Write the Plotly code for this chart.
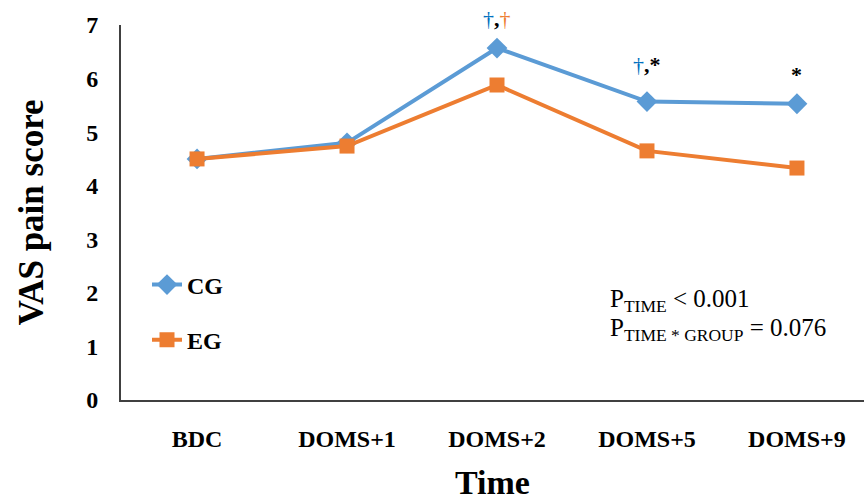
import plotly.graph_objects as go

# Time points and mean VAS pain scores per group
time_points = ["BDC", "DOMS+1", "DOMS+2", "DOMS+5", "DOMS+9"]
cg_scores = [4.50, 4.80, 6.57, 5.57, 5.53]
eg_scores = [4.50, 4.74, 5.88, 4.65, 4.33]
y_ticks = [0, 1, 2, 3, 4, 5, 6, 7]

BLUE = "#5B9BD5"
ORANGE = "#ED7D31"
DAGGER_BLUE = "#0070C0"
SERIF = "Liberation Serif, Times New Roman, serif"

fig = go.Figure()
fig.add_trace(go.Scatter(
    x=list(range(len(time_points))), y=cg_scores, name="<b>CG</b>", mode="lines+markers",
    line=dict(color=BLUE, width=4),
    marker=dict(symbol="diamond", size=16, color=BLUE),
    legendgroup="cg",
))
fig.add_trace(go.Scatter(
    x=list(range(len(time_points))), y=eg_scores, name="<b>EG</b>", mode="lines+markers",
    line=dict(color=ORANGE, width=4),
    marker=dict(symbol="square", size=15, color=ORANGE),
    legendgroup="eg",
))

# Significance marks above the CG points
marks = [
    (2, cg_scores[2], f"<span style='color:{DAGGER_BLUE}'>†</span><b>,</b><span style='color:{ORANGE}'>†</span>", 30),
    (3, cg_scores[3], f"<span style='color:{DAGGER_BLUE}'>†</span><b>,*</b>", 37),
    (4, cg_scores[4], "<b>*</b>", 29),
]
for xi, yi, txt, shift in marks:
    fig.add_annotation(x=xi, y=yi, text=txt, showarrow=False, yshift=shift,
                       font=dict(family=SERIF, size=22, color="black"))

# Statistics text
fig.add_annotation(xref="paper", yref="paper", x=0.655, y=0.22, xanchor="left", yanchor="bottom",
                   text="P<sub>TIME</sub> < 0.001", showarrow=False,
                   font=dict(family=SERIF, size=25, color="black"))
fig.add_annotation(xref="paper", yref="paper", x=0.655, y=0.142, xanchor="left", yanchor="bottom",
                   text="P<sub>TIME * GROUP</sub> = 0.076", showarrow=False,
                   font=dict(family=SERIF, size=25, color="black"))

fig.update_layout(
    width=864, height=501,
    margin=dict(l=121, r=0, t=25, b=101),
    plot_bgcolor="white", paper_bgcolor="white",
    showlegend=True,
    legend=dict(x=0.035, y=0.1, xanchor="left", yanchor="bottom",
                font=dict(family=SERIF, size=24, color="black"),
                tracegroupgap=21, traceorder="grouped",
                bgcolor="rgba(0,0,0,0)"),
    font=dict(family=SERIF, color="black"),
)
fig.update_xaxes(
    tickmode="array", tickvals=list(range(len(time_points))),
    ticktext=[f"<b>{t}</b>" for t in time_points],
    range=[-0.507, 4.447],
    showline=True, linecolor="#404040", linewidth=2,
    showgrid=False, zeroline=False, ticks="",
    tickfont=dict(family=SERIF, size=24, color="black"),
    ticklabelstandoff=16,
    title=dict(text="<b>Time</b>", font=dict(family=SERIF, size=34, color="black"), standoff=22),
)
fig.update_yaxes(
    range=[0, 7], tickvals=y_ticks, ticktext=[f"<b>{v}</b>" for v in y_ticks],
    showline=True, linecolor="#404040", linewidth=2,
    showgrid=False, zeroline=False, ticks="",
    tickfont=dict(family=SERIF, size=24, color="black"),
    ticklabelstandoff=16,
    title=dict(text="<b>VAS pain score</b>", font=dict(family=SERIF, size=35, color="black"), standoff=32),
)

fig.write_html("out.html")
